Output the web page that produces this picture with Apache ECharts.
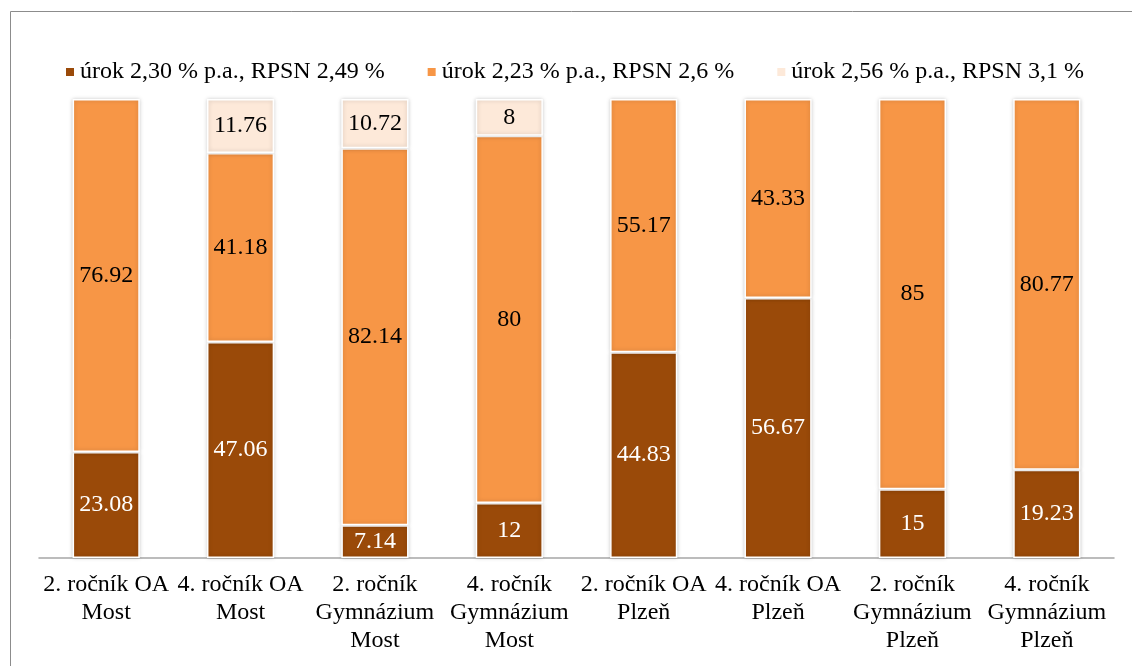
<!DOCTYPE html>
<html>
<head>
<meta charset="utf-8">
<script src="https://cdn.jsdelivr.net/npm/echarts@6/dist/echarts.min.js"></script>
<style>
  html, body { margin: 0; padding: 0; background: #fff; }
  #chart { width: 1132px; height: 666px; }
</style>
</head>
<body>
<div id="chart"></div>
<script>
// School groups along the x axis
const categories = [
  '2. ročník OA\nMost',
  '4. ročník OA\nMost',
  '2. ročník\nGymnázium\nMost',
  '4. ročník\nGymnázium\nMost',
  '2. ročník OA\nPlzeň',
  '4. ročník OA\nPlzeň',
  '2. ročník\nGymnázium\nPlzeň',
  '4. ročník\nGymnázium\nPlzeň'
];

// Share of answers (%) for each loan offer
const seriesNames = [
  'úrok 2,30 % p.a., RPSN 2,49 %',
  'úrok 2,23 % p.a., RPSN 2,6 %',
  'úrok 2,56 % p.a., RPSN 3,1 %'
];
const offerA = [23.08, 47.06, 7.14, 12, 44.83, 56.67, 15, 19.23];
const offerB = [76.92, 41.18, 82.14, 80, 55.17, 43.33, 85, 80.77];
const offerC = [0, 11.76, 10.72, 8, 0, 0, 0, 0];

const colors = ['#9A4A09', '#F79646', '#FDE9D9'];
const labelColors = ['#ffffff', '#000000', '#000000'];
const font = '"Liberation Serif", "Times New Roman", serif';

const chart = echarts.init(document.getElementById('chart'), null, { renderer: 'canvas' });

function makeSeries(idx, values) {
  return {
    name: seriesNames[idx],
    type: 'bar',
    stack: 'total',
    barWidth: '50%',
    data: values.map(v => (v === 0 ? null : v)),
    itemStyle: {
      color: colors[idx],
      borderColor: '#ffffff',
      borderWidth: 1.5,
      shadowBlur: 4,
      shadowColor: 'rgba(0,0,0,0.2)'
    },
    label: {
      show: true,
      position: 'inside',
      color: labelColors[idx],
      fontFamily: font,
      fontSize: 24,
      formatter: p => String(p.value)
    },
    emphasis: { disabled: true }
  };
}

chart.setOption({
  animation: false,
  textStyle: { fontFamily: font },
  graphic: [{
    type: 'rect',
    shape: { x: 10.5, y: 11.5, width: 1300, height: 800 },
    style: { fill: 'none', stroke: '#8c8c8c', lineWidth: 1 },
    silent: true
  }],
  legend: {
    top: 55,
    left: 59,
    itemWidth: 10,
    itemHeight: 10,
    itemGap: 41,
    icon: 'rect',
    textStyle: { fontFamily: font, fontSize: 24, color: '#000' },
    data: seriesNames
  },
  grid: { left: 39, right: 18, top: 99, bottom: 108, containLabel: false },
  xAxis: {
    type: 'category',
    data: categories,
    axisLine: { lineStyle: { color: '#a6a6a6', width: 1.5 } },
    axisTick: { show: false },
    axisLabel: {
      interval: 0,
      margin: 13,
      fontFamily: font,
      fontSize: 24,
      lineHeight: 28,
      color: '#000'
    }
  },
  yAxis: {
    type: 'value',
    min: 0,
    max: 100,
    show: false,
    splitLine: { show: false }
  },
  series: [makeSeries(0, offerA), makeSeries(1, offerB), makeSeries(2, offerC)]
});
</script>
</body>
</html>
